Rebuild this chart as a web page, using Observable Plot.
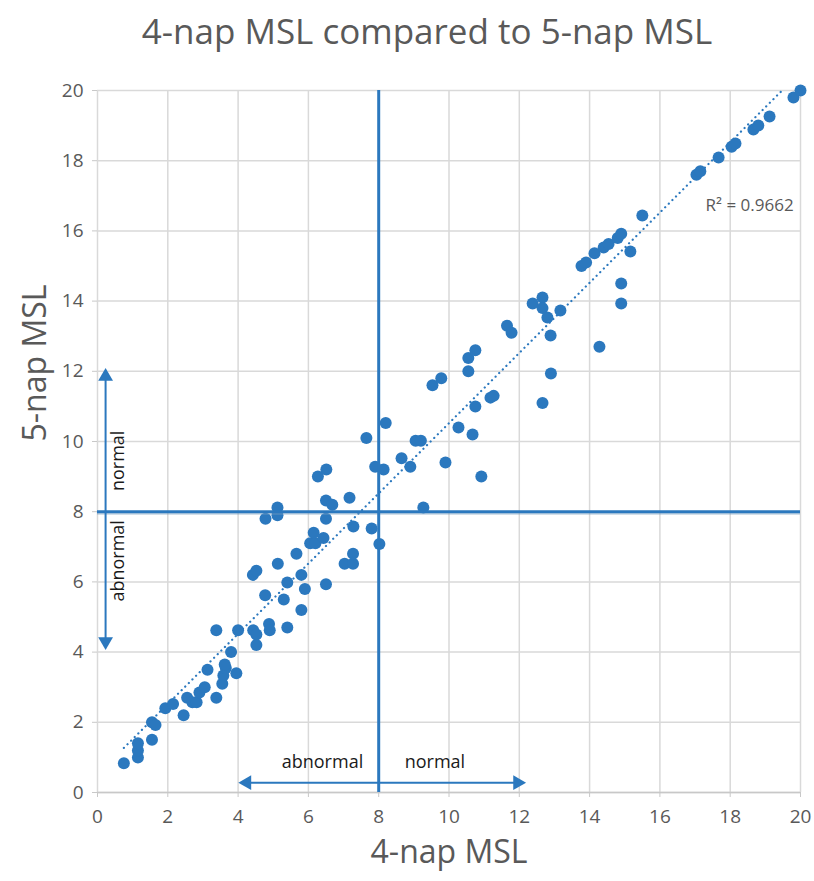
<!DOCTYPE html>
<html>
<head>
<meta charset="utf-8">
<script src="https://cdn.jsdelivr.net/npm/d3@7"></script>
<script src="https://cdn.jsdelivr.net/npm/@observablehq/plot@0.6"></script>
<style>
  html, body { margin: 0; padding: 0; background: #fff; }
  #wrap { position: relative; width: 814px; height: 881px; overflow: hidden; }
  #title { position: relative; height: 70px; }
  #title span { position: absolute; left: 427px; top: 13px; transform: translateX(-50%);
    white-space: nowrap; font-family: "Open Sans", sans-serif; font-size: 35px; line-height: 35px; color: #595959; }
  svg { display: block; }
</style>
</head>
<body>
<div id="wrap">
  <div id="title"><span>4-nap MSL compared to 5-nap MSL</span></div>
  <div id="chart"></div>
</div>
<script>
// 4-nap MSL (x) values
const nap4 = [
  0.75, 1.15, 1.15, 1.15, 1.55, 1.55, 1.65, 1.93, 2.15, 2.45,
  2.55, 2.7, 2.82, 2.9, 3.05, 3.13, 3.38, 3.55, 3.58, 3.65,
  3.62, 3.95, 3.8, 3.38, 4.0, 4.43, 4.52, 4.52, 4.88, 4.9,
  5.4, 4.77, 5.3, 5.8, 4.42, 4.52, 5.13, 5.4, 5.8, 5.9,
  5.66, 6.5, 7.03, 7.27, 7.27, 6.05, 6.2, 6.15, 6.43, 7.28,
  7.8, 8.02, 4.78, 5.12, 5.12, 6.5, 6.5, 6.68, 7.17, 6.27,
  6.51, 7.65, 7.9, 8.14, 8.2, 8.65, 8.9, 9.05, 9.2, 9.27,
  9.53, 9.78, 9.9, 10.27, 10.67, 10.75, 10.92, 10.55, 10.55, 10.75,
  11.18, 11.27, 11.65, 11.78, 12.38, 12.66, 12.66, 12.8, 13.17, 12.89,
  12.9, 12.66, 14.28, 14.9, 14.9, 13.77, 13.9, 14.14, 14.4, 14.54,
  14.8, 14.9, 15.16, 15.5, 17.04, 17.15, 17.67, 18.04, 18.15, 18.66,
  18.8, 19.12, 19.8, 20.0
];
// 5-nap MSL (y) values
const nap5 = [
  0.83, 1.0, 1.2, 1.4, 1.5, 2.0, 1.92, 2.4, 2.52, 2.2,
  2.7, 2.57, 2.57, 2.85, 3.0, 3.5, 2.7, 3.1, 3.33, 3.55,
  3.65, 3.4, 4.0, 4.62, 4.62, 4.62, 4.5, 4.2, 4.8, 4.62,
  4.7, 5.62, 5.5, 5.2, 6.2, 6.32, 6.52, 5.98, 6.2, 5.8,
  6.8, 5.93, 6.52, 6.52, 6.8, 7.1, 7.1, 7.4, 7.25, 7.58,
  7.52, 7.08, 7.8, 7.9, 8.12, 7.8, 8.32, 8.2, 8.4, 9.0,
  9.2, 10.1, 9.28, 9.2, 10.53, 9.52, 9.28, 10.02, 10.02, 8.12,
  11.6, 11.8, 9.4, 10.4, 10.2, 11.0, 9.0, 12.0, 12.38, 12.6,
  11.25, 11.3, 13.3, 13.1, 13.93, 14.1, 13.8, 13.53, 13.73, 13.02,
  11.94, 11.1, 12.7, 13.93, 14.5, 15.0, 15.1, 15.36, 15.53, 15.63,
  15.8, 15.92, 15.41, 16.44, 17.6, 17.7, 18.09, 18.4, 18.49, 18.89,
  19.0, 19.26, 19.8, 20.0
];
const axisTicks = [0, 2, 4, 6, 8, 10, 12, 14, 16, 18, 20];
const cutoff = 8;
const r2Label = "R² = 0.9662";
const r2Pos = [{x: 17.3, y: 16.72}];
// annotation arrows (data units): line ends at arrowhead centres
const vArrow = {x: 0.23, from: 4.3, to: 11.85};
const hArrow = {y: 0.28, from: 4.25, to: 11.95};
const vLabels = [{x: 0.6, y: 9.45, t: "normal"}, {x: 0.6, y: 6.6, t: "abnormal"}];
const hLabels = [{x: 6.4, y: 0.85, t: "abnormal"}, {x: 9.6, y: 0.85, t: "normal"}];

const data = nap4.map((x, i) => ({x, y: nap5[i]}));

// linear regression (trendline)
const mx = d3.mean(data, d => d.x), my = d3.mean(data, d => d.y);
const slope = d3.sum(data, d => (d.x - mx) * (d.y - my)) / d3.sum(data, d => (d.x - mx) ** 2);
const intercept = my - slope * mx;
const ext = d3.extent(data, d => d.x);
const trend = ext.map(x => ({x, y: intercept + slope * x}));

const blue = "#2b78be";
const font = "'Open Sans', sans-serif";

const chart = Plot.plot({
  width: 814,
  height: 811,
  marginTop: 20,
  marginBottom: 89,
  marginLeft: 97,
  marginRight: 14,
  style: {fontFamily: font, background: "#fff"},
  x: {domain: [0, 20], label: null},
  y: {domain: [0, 20], label: null},
  marks: [
    Plot.gridX(axisTicks, {stroke: "#d9d9d9", strokeOpacity: 1, strokeWidth: 1.5}),
    Plot.gridY(axisTicks, {stroke: "#d9d9d9", strokeOpacity: 1, strokeWidth: 1.5}),
    Plot.ruleY([0], {stroke: "#c8c8c8", strokeWidth: 1.5}),
    Plot.axisX({ticks: axisTicks, tickSize: 5, tickPadding: 12, stroke: "#c8c8c8", fill: "#595959", fontSize: 19, label: null}),
    Plot.axisY({ticks: axisTicks, tickSize: 5, tickPadding: 9, stroke: "#c8c8c8", fill: "#595959", fontSize: 19, label: null}),
    Plot.line(trend, {x: "x", y: "y", stroke: blue, strokeWidth: 2.2, strokeDasharray: "0.1,5", strokeLinecap: "round", clip: true}),
    Plot.dot(data, {x: "x", y: "y", r: 6, fill: blue}),
    // cutoff lines
    Plot.ruleY([cutoff], {x1: 0, x2: 20, stroke: "#7f9fbf", strokeWidth: 3, dy: 1.5, strokeOpacity: 0.45}),
    Plot.ruleY([cutoff], {x1: 0, x2: 20, stroke: blue, strokeWidth: 3}),
    Plot.ruleX([cutoff], {y1: 0, y2: 20, stroke: blue, strokeWidth: 3}),
    // vertical double arrow
    Plot.ruleX([vArrow.x], {y1: vArrow.from, y2: vArrow.to, stroke: blue, strokeWidth: 2}),
    Plot.dot([{x: vArrow.x, y: vArrow.to, a: 0}, {x: vArrow.x, y: vArrow.from, a: 180}],
      {x: "x", y: "y", symbol: "triangle", r: 5.5, rotate: "a", fill: blue}),
    // horizontal double arrow
    Plot.ruleY([hArrow.y], {x1: hArrow.from, x2: hArrow.to, stroke: blue, strokeWidth: 2}),
    Plot.dot([{x: hArrow.from, y: hArrow.y, a: -90}, {x: hArrow.to, y: hArrow.y, a: 90}],
      {x: "x", y: "y", symbol: "triangle", r: 5.5, rotate: "a", fill: blue}),
    Plot.text(vLabels, {x: "x", y: "y", text: "t", rotate: -90, fontSize: 18, fill: "#1a1a1a"}),
    Plot.text(hLabels, {x: "x", y: "y", text: "t", fontSize: 18, fill: "#1a1a1a"}),
    Plot.text(r2Pos, {x: "x", y: "y", text: () => r2Label, textAnchor: "start", fontSize: 17, fill: "#595959"}),
    // axis titles
    Plot.text(["4-nap MSL"], {frameAnchor: "bottom", dy: 70, fontSize: 32, fill: "#595959"}),
    Plot.text(["5-nap MSL"], {frameAnchor: "left", dx: -62, rotate: -90, fontSize: 32, fill: "#595959"})
  ]
});
document.getElementById("chart").appendChild(chart);
</script>
</body>
</html>
